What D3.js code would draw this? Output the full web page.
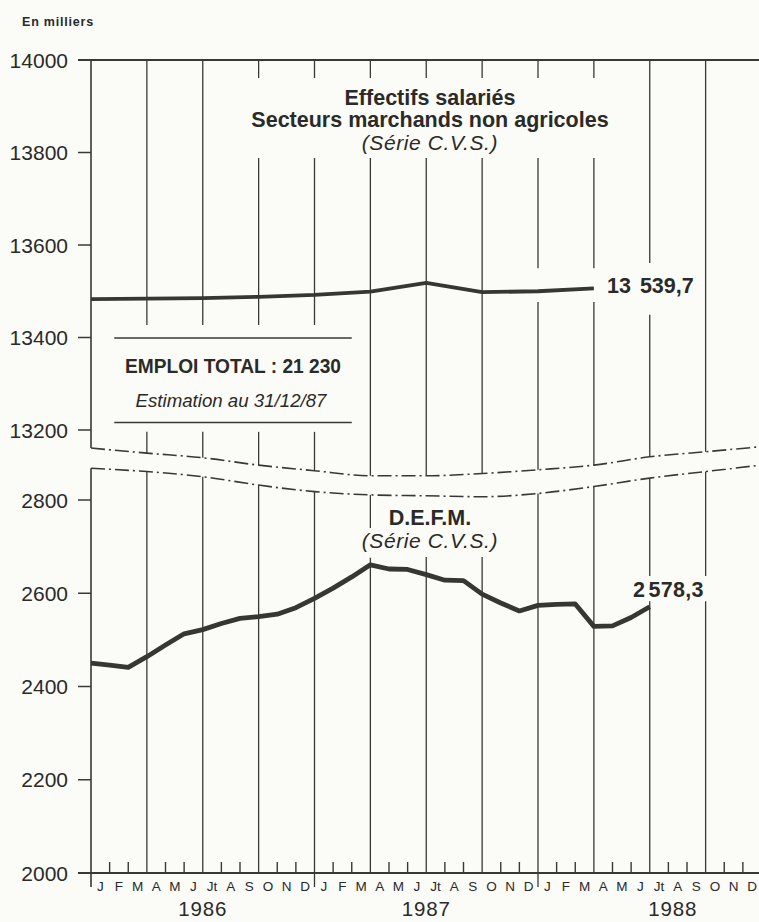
<!DOCTYPE html>
<html><head><meta charset="utf-8">
<script src="https://cdn.jsdelivr.net/npm/d3@7/dist/d3.min.js"></script>
<style>
html,body{margin:0;padding:0;background:#fbfbf8;}
svg{display:block;}
text{font-family:"Liberation Sans",Arial,sans-serif;fill:#2a2a28;}
</style>
</head><body>
<svg id="chart" width="759" height="922"></svg>
<script>
// ---------- data ----------
const monthLabels = ["J","F","M","A","M","J","Jt","A","S","O","N","D"];
const yearLabels = ["1986","1987","1988"];
const topTicks = [14000, 13800, 13600, 13400, 13200];
const bottomTicks = [2800, 2600, 2400, 2200, 2000];
// Effectifs salariés (quarterly, month index from Jan 1986)
const effectifsMonths = [0, 3, 6, 9, 12, 15, 18, 21, 24, 27];
const effectifsValues = [13483, 13484, 13485, 13488, 13492, 13499, 13518, 13498, 13500, 13506];
// D.E.F.M. (monthly)
const defmMonths = [0,1,2,3,4,5,6,7,8,9,10,11,12,13,14,15,16,17,18,19,20,21,22,23,24,25,26,27,28,29,30];
const defmValues = [2450,2446,2441,2464,2489,2513,2522,2535,2546,2550,2555,2569,2589,2611,2635,2661,
                    2652,2651,2640,2628,2627,2598,2579,2562,2574,2576,2577,2529,2530,2548,2571];
// axis-break curves (quarter months)
const breakMonths = [0,3,6,9,12,15,18,21,24,27,30,33,36];
const topBreakValues = [13161,13150,13140,13124,13112,13101,13101,13106,13114,13124,13142,13153,13164];
const bottomBreakValues = [2868,2861,2850,2832,2818,2811,2809,2807,2814,2829,2847,2861,2875];
const topTitle = ["Effectifs salariés", "Secteurs marchands non agricoles", "(Série C.V.S.)"];
const bottomTitle = ["D.E.F.M.", "(Série C.V.S.)"];
const topLast = "13 539,7";
const bottomLast = "2 578,3";
const boxTexts = ["EMPLOI TOTAL : 21 230", "Estimation au 31/12/87"];
const unitLabel = "En milliers";

// ---------- scales ----------
const svg = d3.select("#chart");
const ink = "#383835";
const x = d3.scaleLinear().domain([0, 36]).range([91, 761.5]);
const yT = d3.scaleLinear().domain([13200, 14000]).range([430, 60]);
const yB = d3.scaleLinear().domain([2000, 2800]).range([873, 500]);
const base = yB(2000);

svg.append("rect").attr("width", 759).attr("height", 922).attr("fill", "#fbfbf8");

const g = svg.append("g");

function vseg(xx, y1, y2, w) {
  g.append("line").attr("x1", xx).attr("x2", xx).attr("y1", y1).attr("y2", y2)
    .attr("stroke", ink).attr("stroke-width", w || 1.3);
}
function segWithGaps(xx, y1, y2, gaps, w) {
  let cur = y1;
  gaps.filter(gp => gp[0] < y2 && gp[1] > y1).sort((a, b) => a[0] - b[0]).forEach(gp => {
    if (gp[0] > cur) vseg(xx, cur, gp[0], w);
    cur = Math.max(cur, gp[1]);
  });
  if (cur < y2) vseg(xx, cur, y2, w);
}

// ---------- top panel grid ----------
breakMonths.forEach((m, i) => {
  const xx = x(m);
  const gaps = [];
  if (m >= 9 && m <= 27) gaps.push([yT(13961), yT(13788)]);
  if (m >= 3 && m <= 12) gaps.push([yT(13427), yT(13196)]);
  if (m === 24 || m === 27) gaps.push([yT(13550), yT(13477)]);
  if (m === 30) gaps.push([yT(13561), yT(13449)]);
  segWithGaps(xx, yT(14000), yT(topBreakValues[i]), m === 0 ? [] : gaps, m === 0 ? 1.6 : 1.3);
});
// top frame + ticks
g.append("line").attr("x1", 78).attr("x2", 759).attr("y1", yT(14000)).attr("y2", yT(14000))
  .attr("stroke", ink).attr("stroke-width", 2);
topTicks.forEach(v => {
  g.append("line").attr("x1", 78).attr("x2", x(0)).attr("y1", yT(v)).attr("y2", yT(v))
    .attr("stroke", ink).attr("stroke-width", 1.5);
  g.append("text").attr("x", 68).attr("y", yT(v) + 7.5).attr("text-anchor", "end")
    .attr("font-size", 21).text(d3.format("d")(v));
});

// ---------- bottom panel grid ----------
breakMonths.forEach((m, i) => {
  const xx = x(m);
  let start = yB(bottomBreakValues[i]);
  const gaps = [];
  if (m === 18 || m === 21) start = yB(2678);
  if (m === 15) gaps.push([yB(2740), yB(2676)]);
  if (m === 30 || m === 33) gaps.push([yB(2637), yB(2583)]);
  const end = (m % 12 === 0) ? base + 14 : base;
  segWithGaps(xx, start, end, gaps, m === 0 ? 1.6 : 1.3);
});
// minor month ticks
d3.range(1, 36).filter(k => k % 3 !== 0).forEach(k => {
  vseg(x(k), base - 11, base, 1.4);
});
g.append("line").attr("x1", 78).attr("x2", 761.5).attr("y1", base).attr("y2", base)
  .attr("stroke", ink).attr("stroke-width", 1.8);
bottomTicks.forEach(v => {
  g.append("line").attr("x1", 78).attr("x2", x(0)).attr("y1", yB(v)).attr("y2", yB(v))
    .attr("stroke", ink).attr("stroke-width", 1.5);
  g.append("text").attr("x", 68).attr("y", yB(v) + 7.5).attr("text-anchor", "end")
    .attr("font-size", 21).text(d3.format("d")(v));
});

// ---------- break curves ----------
const breakLine = d3.line().curve(d3.curveMonotoneX);
g.append("path")
  .attr("d", breakLine(breakMonths.map((m, i) => [x(m), yT(topBreakValues[i])])))
  .attr("fill", "none").attr("stroke", ink).attr("stroke-width", 1.6)
  .attr("stroke-dasharray", "14,4,2,4");
g.append("path")
  .attr("d", breakLine(breakMonths.map((m, i) => [x(m), yB(bottomBreakValues[i])])))
  .attr("fill", "none").attr("stroke", ink).attr("stroke-width", 1.6)
  .attr("stroke-dasharray", "14,4,2,4");

// ---------- series ----------
const lineT = d3.line().x(d => x(d[0])).y(d => yT(d[1]));
g.append("path")
  .attr("d", lineT(effectifsMonths.map((m, i) => [m, effectifsValues[i]])))
  .attr("fill", "none").attr("stroke", "#363633").attr("stroke-width", 3.8)
  .attr("stroke-linejoin", "round");
const lineB = d3.line().x(d => x(d[0])).y(d => yB(d[1]));
g.append("path")
  .attr("d", lineB(defmMonths.map((m, i) => [m, defmValues[i]])))
  .attr("fill", "none").attr("stroke", "#363633").attr("stroke-width", 4.8)
  .attr("stroke-linejoin", "round");

// ---------- month & year labels ----------
yearLabels.forEach((yr, yi) => {
  monthLabels.forEach((ml, mi) => {
    g.append("text").attr("x", x(yi * 12 + mi + 0.5)).attr("y", base + 18)
      .attr("text-anchor", "middle")
      .attr("font-family", "'DejaVu Sans',sans-serif").style("font-size", "13.5px")
      .text(ml);
  });
  const cx = x(yi * 12 + 6) + (yi === 2 ? 23 : 0);
  g.append("text").attr("x", cx).attr("y", 916).attr("text-anchor", "middle")
    .attr("font-size", 20.5).attr("letter-spacing", 0.8).text(yr);
});

// ---------- titles & labels ----------
g.append("text").attr("x", 22).attr("y", 26).attr("font-size", 12.5).attr("font-weight", "bold")
  .attr("letter-spacing", 0.8).text(unitLabel);

const tcx = x(18.2);
g.append("text").attr("x", tcx).attr("y", 105).attr("text-anchor", "middle")
  .attr("font-size", 21.5).attr("font-weight", "bold").text(topTitle[0]);
g.append("text").attr("x", tcx).attr("y", 127).attr("text-anchor", "middle")
  .attr("font-size", 21.5).attr("font-weight", "bold").text(topTitle[1]);
g.append("text").attr("x", tcx).attr("y", 150).attr("text-anchor", "middle")
  .attr("font-size", 21).attr("font-style", "italic").attr("letter-spacing", 0.6).text(topTitle[2]);

g.append("text").attr("x", 607).attr("y", 293).attr("font-size", 21.5).attr("font-weight", "bold")
  .attr("word-spacing", 3).text(topLast);

g.append("text").attr("x", tcx).attr("y", 525).attr("text-anchor", "middle")
  .attr("font-size", 21.5).attr("font-weight", "bold").text(bottomTitle[0]);
g.append("text").attr("x", tcx).attr("y", 548).attr("text-anchor", "middle")
  .attr("font-size", 21).attr("font-style", "italic").attr("letter-spacing", 0.6).text(bottomTitle[1]);

g.append("text").attr("x", 633).attr("y", 597).attr("font-size", 21.5).attr("font-weight", "bold")
  .attr("word-spacing", -3).attr("letter-spacing", 0.3).text(bottomLast);

// EMPLOI TOTAL box
[13399, 13216].forEach(v => {
  g.append("line").attr("x1", x(1.25)).attr("x2", x(14)).attr("y1", yT(v)).attr("y2", yT(v))
    .attr("stroke", ink).attr("stroke-width", 1.5);
});
const bcx = (x(1.25) + x(14)) / 2;
g.append("text").attr("x", bcx).attr("y", 373).attr("text-anchor", "middle")
  .attr("font-family", "'Liberation Sans Narrow','DejaVu Sans Condensed','Liberation Sans',sans-serif")
  .attr("font-stretch", "condensed")
  .attr("font-size", 20).attr("font-weight", "bold")
  .attr("textLength", 216).attr("lengthAdjust", "spacingAndGlyphs").text(boxTexts[0]);
g.append("text").attr("x", bcx - 2).attr("y", 407).attr("text-anchor", "middle")
  .attr("font-family", "'Liberation Sans Narrow','DejaVu Sans Condensed','Liberation Sans',sans-serif")
  .attr("font-stretch", "condensed")
  .attr("font-size", 19).attr("font-style", "italic")
  .attr("textLength", 191).attr("lengthAdjust", "spacingAndGlyphs").text(boxTexts[1]);
</script>
</body></html>
